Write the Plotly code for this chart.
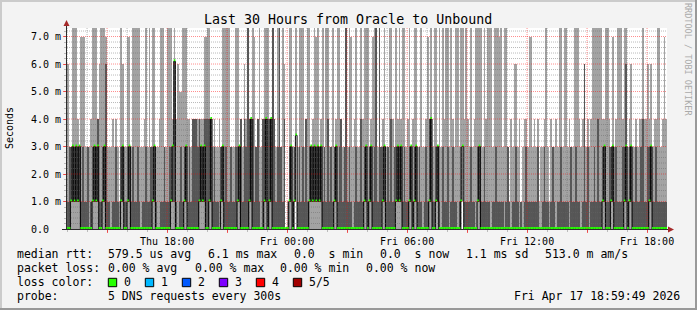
import plotly.graph_objects as go
import pandas as pd

# ---------------- data ----------------
RANGE_START = "2026-04-16 12:59:49"
RANGE_END = "2026-04-17 18:59:49"
SAMPLE_START = "2026-04-16 13:00:00"
STEP_S = 300

# five sorted pings per 5-minute sample (ms); 9 = beyond the top of the chart
P1 = [0]*137 + [3.4] + [0]*99 + [3] + [0]*122

P2 = [
 0,0,1,1,1,1,1,1,0,0,0,0,0,0,0,1,1,1,1,0,
 0,1,1,0,0,0,0,0,0,0,0,0,1,1,0,0,1,1,0,0,
 0,0,0,0,0,0,0,0,0,0,0,1,1,0,0,0,0,0,0,0,
 0,0,1,1,1,0,0,0,0,0,1,1,0,0,0,0,0,0,0,1,
 1,1,1,0,0,1,1,0,0,0,0,0,1,1,0,0,0,0,0,0,
 0,0,1,1,0,0,0,0,0,1,1,0,0,0,0,0,0,0,1,1,
 0,1,1,0,0,0,0,0,0,0,0,0,0,1,1,0,1,3.4,0,0,
 0,0,0,0,0,1,1,1,1,1,1,1,1,0,0,0,0,0,0,0,
 1,1,0,0,0,0,0,0,0,0,0,0,0,0,0,0,0,0,1,1,
 0,1,1,0,0,0,0,0,0,1,1,0,0,0,0,0,0,1,1,1,
 1,0,0,0,0,1,1,0,1,1,0,0,0,0,0,0,0,1,1,0,
 0,1,1,0,0,0,0,0,0,0,0,0,0,0,0,0,1,3,0,0,
 0,0,0,0,0,0,1,1,0,0,0,0,0,0,0,0,0,0,0,0,
 0,0,0,0,0,0,0,0,0,0,0,0,0,0,0,0,0,0,0,0,
 0,0,0,0,0,0,0,0,0,0,0,0,0,0,0,0,0,0,0,0,
 0,0,0,0,0,0,0,0,0,0,0,0,0,0,0,0,0,0,0,0,
 0,1,1,0,0,0,1,1,0,0,0,0,0,0,1,1,0,1,1,0,
 0,0,0,0,0,0,0,0,0,1,1,0,0,0,0,0,0,0,0,0,
]

P3 = [  # median
 0,0,1,3,1,3,1,3,0,0,0,0,0,0,0,1,3,1,3,0,
 0,1,3,0,0,0,0,0,0,0,0,0,1,3,0,0,1,3,0,0,
 0,0,0,0,0,0,0,0,0,0,0,1,3,0,0,0,0,0,0,0,
 0,0,1,3,6.1,0,0,0,0,0,1,3,0,0,0,0,0,0,0,1,
 3,1,3,0,0,1,4,0,0,0,0,0,1,3,0,0,0,0,0,0,
 0,0,1,3,0,0,0,0,0,1,4,0,0,0,0,0,0,0,1,4,
 0,1,4,0,0,0,0,0,0,0,0,0,0,1,3,0,1,3.4,0,0,
 0,0,0,0,0,1,3,1,3,1,3,1,3,0,0,0,0,0,0,0,
 1,3,0,0,0,0,0,0,0,0,0,0,0,0,0,0,0,0,1,3,
 0,1,3,0,0,0,0,0,0,1,3,0,0,0,0,0,0,1,3,1,
 3,0,0,0,0,1,3,0,1,3,0,0,0,0,0,0,0,1,4,0,
 0,1,3,0,0,0,0,0,0,0,0,0,0,0,0,0,1,3,0,0,
 0,0,0,0,0,0,1,3,0,0,0,0,0,0,0,0,0,0,0,0,
 0,0,0,0,0,0,0,0,0,0,0,0,0,0,0,0,0,0,0,0,
 0,0,0,0,0,0,0,0,0,0,0,0,0,0,0,0,0,0,0,0,
 0,0,0,0,0,0,0,0,0,0,0,0,0,0,0,0,0,0,0,0,
 0,1,3,0,0,0,1,3,0,0,0,0,0,0,1,3,0,1,3,0,
 0,0,0,0,0,0,0,0,0,1,3,0,0,0,0,0,0,0,0,0,
]

P4 = [
 1,3,3,3,3,3,3,3,1,3,1,1,3,0,1,3,3,3,4,1,
 1,3,3,6,1,1,0,1,1,3,1,0,3,3,1,1,3,3,1,3,
 1,1,3,1,0,1,1,3,1,1,3,3,3,1,0,0,1,1,3,1,
 1,3,3,3,6.1,1,0,1,3,1,3,3,1,3,1,4,4,4,3,4,
 3,3,4,4,4,4,4,1,3,1,1,0,3,3,1,3,1,1,3,1,
 1,3,3,3,4,1,4,3,9,4,4,4,1,3,4,1,0,4,4,4,
 4,4,4,9,4,1,3,9,3,1,4,0,0,3,3,1,3,3.4,1,3,
 1,3,1,4,1,3,3,3,3,3,3,3,3,1,3,1,4,1,3,1,
 3,3,1,3,4,1,3,9,1,3,1,0,1,3,1,1,4,1,3,3,
 1,3,3,1,3,9,1,9,3,3,3,1,3,1,4,1,3,3,3,3,
 3,1,3,1,1,3,3,1,3,3,1,3,1,0,1,3,1,4,4,1,
 1,3,3,1,0,3,1,1,3,0,1,3,1,1,0,1,3,3,1,1,
 1,1,3,1,1,0,3,3,1,1,3,1,1,1,0,1,1,3,1,1,
 1,1,0,1,3,1,0,1,1,3,1,0,1,0,1,3,1,1,1,1,
 1,1,3,0,0,1,3,1,1,0,1,3,1,0,1,1,3,1,1,1,
 1,0,3,1,1,3,1,1,0,1,6,1,3,0,1,1,3,1,4,1,
 1,3,3,1,1,3,3,3,1,3,1,1,1,3,3,6,1,3,3,1,
 1,3,1,1,3,4,1,1,3,3,3,1,1,3,1,1,1,1,1,1,
]

P5 = [
 6,3,3,9,9,9,4,3,7,7,7,3,3,3,4,9,9,9,4,6,
 9,9,9,7,3,3,3,4,3,4,3,1,9,6,3,3,7,7,3,9,
 9,9,9,9,3,3,4,9,3,9,3,9,9,3,3,4,9,9,3,3,
 9,9,9,4,9,4,6,5,5,9,9,9,4,4,3,4,4,4,4,4,
 4,4,7,7,9,9,4,3,4,3,3,4,3,9,9,9,9,9,3,3,
 3,9,9,3,4,3,6,4,9,4,4,9,7,3,4,9,3,4,9,9,
 9,4,4,9,4,3,9,9,3,9,6,0,1,9,9,3,3,9,3,9,
 9,9,3,4,9,9,3,4,9,7,9,3,4,9,3,9,9,3,3,9,
 3,4,9,9,4,3,3,9,3,9,7,3,4,9,3,3,9,4,9,9,
 9,3,4,7,9,9,3,9,3,4,9,3,3,9,9,4,3,9,4,9,
 4,9,9,3,4,9,3,4,9,9,3,3,9,3,3,4,7,4,9,3,
 9,9,3,9,3,9,4,9,9,3,9,4,3,9,9,3,9,9,4,9,
 4,3,9,3,4,9,9,9,9,3,9,4,9,9,9,3,9,9,9,7,
 9,3,9,9,3,1,4,3,6,6,3,4,1,3,4,4,3,7,7,3,
 4,3,4,1,3,3,4,9,3,1,4,3,3,4,3,9,9,3,9,9,
 3,4,3,3,9,9,9,4,3,4,6,3,4,3,4,9,9,9,9,9,
 9,4,4,9,9,4,3,7,3,4,9,9,9,4,9,9,3,4,6,3,
 3,4,3,4,4,9,4,4,6,4,6,3,4,4,9,9,3,4,7,4,
]

X_TICKS = ["2026-04-16 15:00", "2026-04-16 18:00", "2026-04-16 21:00",
           "2026-04-17 00:00", "2026-04-17 03:00", "2026-04-17 06:00",
           "2026-04-17 09:00", "2026-04-17 12:00", "2026-04-17 15:00",
           "2026-04-17 18:00"]
X_LABELS = ["", "Thu 18:00", "", "Fri 00:00", "", "Fri 06:00", "",
            "Fri 12:00", "", "Fri 18:00"]
Y_TICKS = [0, 1, 2, 3, 4, 5, 6, 7]
Y_LABELS = ["0.0\u00a0\u00a0", "1.0 m", "2.0 m", "3.0 m", "4.0 m",
            "5.0 m", "6.0 m", "7.0 m"]
Y_MAX = 7.31

TITLE = "Last 30 Hours from Oracle to Unbound"
LINE1 = ["median rtt:", "579.5 us avg", "6.1 ms max", "0.0  s min",
         "0.0  s now", "1.1 ms sd", "513.0 m am/s"]
LINE2 = ["packet loss:", "0.00 % avg", "0.00 % max", "0.00 % min", "0.00 % now"]
LOSS_LABELS = ["0", "1", "2", "3", "4", "5/5"]
LOSS_COLORS = ["#26ff00", "#00b8ff", "#0059ff", "#7e00ff", "#ff0000", "#a10000"]
PROBE = "5 DNS requests every 300s"
STAMP = "Fri Apr 17 18:59:49 2026"

# ---------------- layout constants (pixels) ----------------
W, H = 697, 310
PL, PR, PT, PB = 67, 667, 28, 229
FONT = "DejaVu Sans Mono"
LIGHT, DARK = "#a4a4a4", "#585858"
GREEN = LOSS_COLORS[0]


def fx(px):
    return (px - PL) / (PR - PL)


def fy(py):
    return (PB - py) / (PB - PT)


N = len(P3)
t0 = pd.Timestamp(SAMPLE_START)
left = [t0 + pd.Timedelta(seconds=STEP_S * i) for i in range(N)]
right = [t + pd.Timedelta(seconds=STEP_S) for t in left]
center = [t + pd.Timedelta(seconds=STEP_S / 2) for t in left]
wms = STEP_S * 1000
onepx = Y_MAX / (PB - PT)  # one pixel in data units

fig = go.Figure()
fig.add_bar(x=center, base=P1, y=[b - a for a, b in zip(P1, P5)], width=wms,
            marker=dict(color=LIGHT, line=dict(width=0.02, color=LIGHT)),
            hoverinfo="skip")
fig.add_bar(x=center, base=P2, y=[b - a for a, b in zip(P2, P4)], width=wms,
            marker=dict(color=DARK, line=dict(width=0.02, color=DARK)),
            hoverinfo="skip")
# median: black step connector, then a 2px band in the loss colour
fig.add_scatter(x=left + [right[-1]], y=P3 + [P3[-1]], mode="lines",
                line=dict(shape="hv", color="#000000", width=1), hoverinfo="skip")
gx, gy = [], []
for l, r, m in zip(left, right, P3):
    gx += [l, r, None]
    gy += [m + onepx, m + onepx, None]
fig.add_scatter(x=gx, y=gy, mode="lines", connectgaps=False,
                line=dict(color=GREEN, width=2), hoverinfo="skip")

shapes = []
GRID = "rgba(102,102,102,0.45)"
MGRID = "rgba(255,0,0,0.45)"
# horizontal grid
for k in range(1, 37):
    v = k * 0.2
    if v > Y_MAX:
        break
    major = k % 5 == 0
    shapes.append(dict(type="line", xref="paper", yref="y", x0=0, x1=1,
                       y0=v, y1=v, layer="above",
                       line=dict(color=MGRID if major else GRID, width=1,
                                 dash="1px,1px")))
# vertical grid (hourly minor, 3-hourly major)
hours = pd.date_range("2026-04-16 13:00", "2026-04-17 18:00", freq="1h")
for h in hours:
    major = h.hour % 3 == 0
    shapes.append(dict(type="line", xref="x", yref="paper", x0=h, x1=h,
                       y0=0, y1=1, layer="above",
                       line=dict(color=MGRID if major else GRID, width=1,
                                 dash="1px,1px")))
AXIS = "#2c2c2c"
ARROW = "#a52a2a"
shapes.append(dict(type="line", xref="paper", yref="paper", x0=fx(66.5), x1=fx(66.5),
                   y0=fy(229.5), y1=fy(23), line=dict(color=AXIS, width=1)))
shapes.append(dict(type="line", xref="paper", yref="paper", x0=fx(62), x1=fx(670),
                   y0=fy(229.5), y1=fy(229.5), line=dict(color=AXIS, width=1)))
shapes.append(dict(type="path", xref="paper", yref="paper",
                   path=f"M {fx(63.5)} {fy(26)} L {fx(69.5)} {fy(26)} L {fx(66.5)} {fy(20)} Z",
                   fillcolor=ARROW, line=dict(width=0)))
shapes.append(dict(type="path", xref="paper", yref="paper",
                   path=f"M {fx(668)} {fy(226.5)} L {fx(668)} {fy(232.5)} L {fx(674)} {fy(229.5)} Z",
                   fillcolor=ARROW, line=dict(width=0)))
# frame shading
shapes += [
    dict(type="rect", xref="paper", yref="paper", x0=fx(0), x1=fx(697), y0=fy(0), y1=fy(2),
         fillcolor="#cbcbcb", line=dict(width=0)),
    dict(type="rect", xref="paper", yref="paper", x0=fx(0), x1=fx(2), y0=fy(0), y1=fy(310),
         fillcolor="#cbcbcb", line=dict(width=0)),
    dict(type="rect", xref="paper", yref="paper", x0=fx(0), x1=fx(697), y0=fy(308), y1=fy(310),
         fillcolor="#999999", line=dict(width=0)),
    dict(type="rect", xref="paper", yref="paper", x0=fx(695), x1=fx(697), y0=fy(0), y1=fy(310),
         fillcolor="#999999", line=dict(width=0)),
]

ann = []


def txt(s, px, py, size=11.5, color="#000000", anchor="left", angle=0):
    ann.append(dict(text=s.replace(" ", "\u00a0"), x=fx(px), y=fy(py),
                    xref="paper", yref="paper", xanchor=anchor, yanchor="middle",
                    showarrow=False, textangle=angle, borderpad=0,
                    font=dict(family=FONT, size=size, color=color)))


txt(TITLE, 348, 19, size=13.3, anchor="center")
txt("Seconds", 10, 128, size=10, anchor="center", angle=-90)
txt("RRDTOOL / TOBI OETIKER", 688, 59, size=8.5, color="#aaaaaa",
    anchor="center", angle=90)

LINE1_X = [16, 107.3, 207, 293, 379, 465, 544]
for s, x in zip(LINE1, LINE1_X):
    txt(s, x, 254)
LINE2_X = [16, 107.3, 193.7, 279.3, 365]
for s, x in zip(LINE2, LINE2_X):
    txt(s, x, 268)
txt("loss color:", 16, 282)
for k, (lab, col) in enumerate(zip(LOSS_LABELS, LOSS_COLORS)):
    bx = 108.3 + 37 * k
    shapes.append(dict(type="rect", xref="paper", yref="paper",
                       x0=fx(bx), x1=fx(bx + 8.4), y0=fy(278.3), y1=fy(286.7),
                       fillcolor=col, line=dict(color="#000000", width=1)))
    txt(lab, bx + 15, 282)
txt("probe:", 16, 296)
txt(PROBE, 107.3, 296)
txt(STAMP, 513.3, 296)

tickfont = dict(family=FONT, size=10, color="#000000")
fig.update_layout(
    width=W, height=H, margin=dict(l=PL, r=W - PR, t=PT, b=H - PB, pad=0),
    paper_bgcolor="#f3f3f3", plot_bgcolor="#ffffff",
    barmode="overlay", bargap=0, showlegend=False,
    shapes=shapes, annotations=ann,
    xaxis=dict(type="date", range=[RANGE_START, RANGE_END],
               tickmode="array", tickvals=X_TICKS, ticktext=X_LABELS,
               ticks="outside", ticklen=3, tickcolor="rgba(255,0,0,0.6)",
               tickfont=tickfont, showgrid=False, zeroline=False, showline=False,
               minor=dict(dtick=3600000, tick0="2026-04-16 13:00", ticks="outside",
                          ticklen=2, tickcolor="#bbbbbb", showgrid=False)),
    yaxis=dict(range=[0, Y_MAX], tickmode="array", tickvals=Y_TICKS,
               ticktext=Y_LABELS, ticks="outside", ticklen=3,
               tickcolor="rgba(255,0,0,0.6)", tickfont=tickfont,
               showgrid=False, zeroline=False, showline=False,
               minor=dict(dtick=0.2, tick0=0, ticks="outside", ticklen=2,
                          tickcolor="#bbbbbb", showgrid=False)),
)

fig.write_html("out.html")
